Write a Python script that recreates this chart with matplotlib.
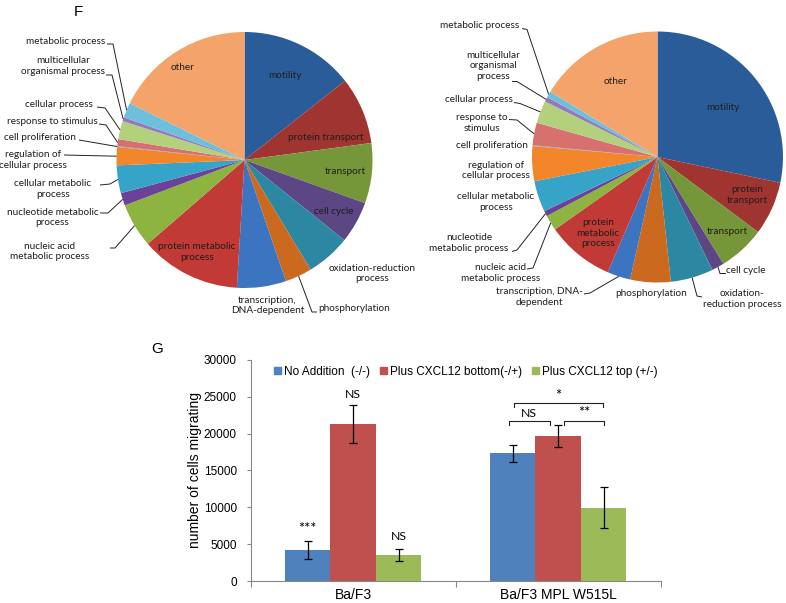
import matplotlib
matplotlib.use('Agg')
import matplotlib.pyplot as plt
import numpy as np
from matplotlib.patches import Patch

W, H = 786, 603

# ---------------- data ----------------
go_terms = ['motility', 'protein transport', 'transport', 'cell cycle',
            'oxidation-reduction process', 'phosphorylation',
            'transcription, DNA-dependent', 'protein metabolic process',
            'nucleic acid metabolic process', 'nucleotide metabolic process',
            'cellular metabolic process', 'regulation of cellular process',
            'cell proliferation', 'response to stimulus', 'cellular process',
            'multicellular organismal process', 'metabolic process', 'other']
left_pct = [14.4, 8.5, 7.6, 5.3, 5.6, 3.4, 6.2, 12.7, 5.6, 1.6, 3.5, 2.3,
            0.1, 0.9, 2.3, 0.5, 1.9, 17.7]
right_pct = [28.3, 6.9, 6.0, 1.6, 5.5, 5.2, 3.0, 8.7, 2.0, 0.7, 4.0, 4.5,
             0.1, 2.9, 2.9, 0.6, 0.8, 16.3]

groups = ['Ba/F3', 'Ba/F3 MPL W515L']
conditions = ['No Addition  (-/-)', 'Plus CXCL12 bottom(-/+)', 'Plus CXCL12 top (+/-)']
no_addition = [4250, 17300]
no_addition_err = [1200, 1150]
cxcl12_bottom = [21350, 19650]
cxcl12_bottom_err = [2580, 1450]
cxcl12_top = [3530, 9950]
cxcl12_top_err = [750, 2740]
sig_baf3 = ['***', 'NS', 'NS']
sig_pairs = ['NS', '**', '*']

# ---------------- style ----------------
pie_colors = ['#2B5C9A', '#A03430', '#76963A', '#5C4684', '#2C87A3', '#CB6A1E',
              '#3C74BF', '#C23A35', '#8DB440', '#6A4399', '#35A4C8', '#F3862A',
              '#7EA7DA', '#D6716F', '#B3D07D', '#9678BE', '#6CC0DC', '#F4A46B']
bar_colors = ['#4F81BD', '#C0504D', '#9BBB59']
PIEFONT = ['Lato', 'DejaVu Sans']
PFS = 7.2

fig = plt.figure(figsize=(W / 100, H / 100), dpi=100)
ax0 = fig.add_axes([0, 0, 1, 1])


def py(y):
    return H - y


def draw_pie(vals, cx, cy, r):
    wedges, _ = ax0.pie(vals, colors=pie_colors, startangle=90, counterclock=False,
                        center=(cx, py(cy)), radius=r,
                        wedgeprops=dict(linewidth=0))
    return wedges


def edge_mid(w):
    a = np.deg2rad((w.theta1 + w.theta2) / 2)
    cx, cy = w.center
    return cx + w.r * np.cos(a), cy + w.r * np.sin(a)


def label(x, y, s, ha='center', color='#1e1e1e'):
    ax0.text(x, py(y), s, ha=ha, va='center', fontsize=PFS, family=PIEFONT,
             color=color, linespacing=1.25)


def leader(w, pts):
    xs = [p[0] for p in pts]
    ys = [py(p[1]) for p in pts]
    ex, ey = edge_mid(w)
    xs.append(ex)
    ys.append(ey)
    ax0.plot(xs, ys, color='#222222', lw=0.7, solid_capstyle='butt')


idx = {t: i for i, t in enumerate(go_terms)}

# ---- left pie ----
wl = draw_pie(left_pct, 244.5, 160, 128)
inside_l = [('other', 183, 67), ('motility', 285, 75), ('protein transport', 326, 137),
            ('transport', 345, 172), ('cell cycle', 334, 211),
            ('protein metabolic\nprocess', 197, 252)]
for s, x, y in inside_l:
    label(x, y, s)
outside_l = [
    ('metabolic process', 'metabolic process', 66, 41, [(107, 44), (113, 44)]),
    ('multicellular organismal process', 'multicellular\norganismal process', 63, 66, [(106, 75), (112, 75)]),
    ('cellular process', 'cellular process', 59, 104.5, [(97, 107), (105, 108)]),
    ('response to stimulus', 'response to stimulus', 52.5, 121, [(99, 124), (106, 125)]),
    ('cell proliferation', 'cell proliferation', 40, 137, [(79, 140)]),
    ('regulation of cellular process', 'regulation of\ncellular process', 33, 160, [(64, 155)]),
    ('cellular metabolic process', 'cellular metabolic\nprocess', 53, 189, [(100, 185), (110, 184)]),
    ('nucleotide metabolic process', 'nucleotide metabolic\nprocess', 52.5, 217.5, [(100, 213), (108, 213)]),
    ('nucleic acid metabolic process', 'nucleic acid\nmetabolic process', 50, 251.5, [(110, 248), (115, 248)]),
    ('transcription, DNA-dependent', 'transcription,\nDNA-dependent', 267.5, 305.5, None),
    ('phosphorylation', 'phosphorylation', 354, 308.5, [(317, 312), (312, 312)]),
    ('oxidation-reduction process', 'oxidation-reduction\nprocess', 372, 273.5, None),
]
for key, s, x, y, pts in outside_l:
    label(x, y, s)
    if pts:
        leader(wl[idx[key]], pts)

# ---- right pie ----
wr = draw_pie(right_pct, 657.5, 157, 125.5)
inside_r = [('other', 616, 81), ('motility', 723, 108), ('protein\ntransport', 747, 195),
            ('transport', 727, 232), ('protein\nmetabolic\nprocess', 598, 233)]
for s, x, y in inside_r:
    label(x, y, s)
outside_r = [
    ('metabolic process', 'metabolic process', 480, 26, [(522, 28.5), (527, 29.5)]),
    ('multicellular organismal process', 'multicellular\norganismal\nprocess', 493, 66, [(512, 81.5), (517, 81.5)]),
    ('cellular process', 'cellular process', 479, 100, [(514, 102.5), (520, 103.5)]),
    ('response to stimulus', 'response to\nstimulus', 482, 123, [(509, 119.5), (517, 120)]),
    ('cell proliferation', 'cell proliferation', 492, 145.7, None),
    ('regulation of cellular process', 'regulation of\ncellular process', 496, 170.5, None),
    ('cellular metabolic process', 'cellular metabolic\nprocess', 496, 201.7, None),
    ('nucleotide metabolic process', 'nucleotide\nmetabolic process', 469, 243.3, [(512, 251.5), (517, 250)]),
    ('nucleic acid metabolic process', 'nucleic acid\nmetabolic process', 500.5, 273, [(527, 269), (533, 268)]),
    ('transcription, DNA-dependent', 'transcription, DNA-\ndependent', 539, 297, [(584, 294), (590, 293)]),
    ('phosphorylation', 'phosphorylation', 651, 293.3, None),
    ('oxidation-reduction process', 'oxidation-\nreduction process', 742, 299, [(702, 297), (697, 296)]),
    ('cell cycle', 'cell cycle', 746, 270.7, [(726, 273.5), (720, 273.5)]),
]
for key, s, x, y, pts in outside_r:
    label(x, y, s)
    if pts:
        leader(wr[idx[key]], pts)

ax0.set_xlim(0, W)
ax0.set_ylim(0, H)
ax0.set_aspect('auto')
ax0.axis('off')

# panel labels
ax0.text(78, py(12), 'F', fontsize=11, family='Liberation Sans', ha='center', va='center')
ax0.text(157, py(349), 'G', fontsize=11, family='Liberation Sans', ha='center', va='center')

# ---------------- bar chart ----------------
axb = fig.add_axes([250.7 / W, (H - 581) / H, 410 / W, (581 - 359.8) / H])
x = np.arange(len(groups))
bw = 0.222
series = [(no_addition, no_addition_err), (cxcl12_bottom, cxcl12_bottom_err),
          (cxcl12_top, cxcl12_top_err)]
for k, (vals, errs) in enumerate(series):
    axb.bar(x + (k - 1) * bw, vals, bw, color=bar_colors[k], yerr=errs,
            error_kw=dict(ecolor='black', elinewidth=0.9, capsize=2.8, capthick=0.9))

axb.set_xlim(-0.5, 1.5)
axb.set_ylim(0, 30000)
axb.set_yticks(np.arange(0, 30001, 5000))
axb.set_xticks(x)
axb.set_xticklabels(groups, fontsize=10, family='Liberation Sans')
axb.set_xticks([-0.5, 0.5, 1.5], minor=True)
axb.tick_params(axis='x', which='major', length=0, pad=5)
axb.tick_params(axis='x', which='minor', length=4, color='#888888', width=0.8)
axb.tick_params(axis='y', length=3, color='#888888', width=0.8, pad=7,
                labelsize=8.5)
for lab in axb.get_yticklabels():
    lab.set_family('Liberation Sans')
for sp in ['top', 'right']:
    axb.spines[sp].set_visible(False)
for sp in ['left', 'bottom']:
    axb.spines[sp].set_color('#888888')
    axb.spines[sp].set_linewidth(0.8)
axb.set_ylabel('number of cells migrating', fontsize=10, family='Liberation Sans')
axb.yaxis.set_label_coords(-0.118, 0.5)

handles = [Patch(color=c) for c in bar_colors]
axb.legend(handles, conditions, loc='center', bbox_to_anchor=(0.5246, 0.946), ncol=3,
           frameon=False, prop=dict(family='Liberation Sans', size=8.5),
           handlelength=0.55, handleheight=0.55, handletextpad=0.25,
           columnspacing=0.9, borderaxespad=0)

AFS = 8.8
# single-bar significance for Ba/F3
sig_y = [7000, 25350, 6100]
for k, s in enumerate(sig_baf3):
    fs = 10.5 if '*' in s else AFS
    axb.text(x[0] + (k - 1) * bw, sig_y[k], s, ha='center', va='center',
             fontsize=fs, family=PIEFONT)

# brackets for MPL W515L
cb, cr, cg = x[1] - bw, x[1], x[1] + bw
brackets = [(cb - 0.02, cr - 0.04, 21720), (cr + 0.03, cg, 21720), (cb + 0.006, cg - 0.003, 24080)]
for (x0, x1, yb), s in zip(brackets, sig_pairs):
    axb.plot([x0, x0, x1, x1], [yb - 500, yb, yb, yb - 500], color='#222222', lw=0.8)
    fs = 10.5 if '*' in s else AFS
    axb.text((x0 + x1) / 2, yb + 1000, s, ha='center', va='center', fontsize=fs,
             family=PIEFONT)

fig.savefig('out.png', dpi=100)
